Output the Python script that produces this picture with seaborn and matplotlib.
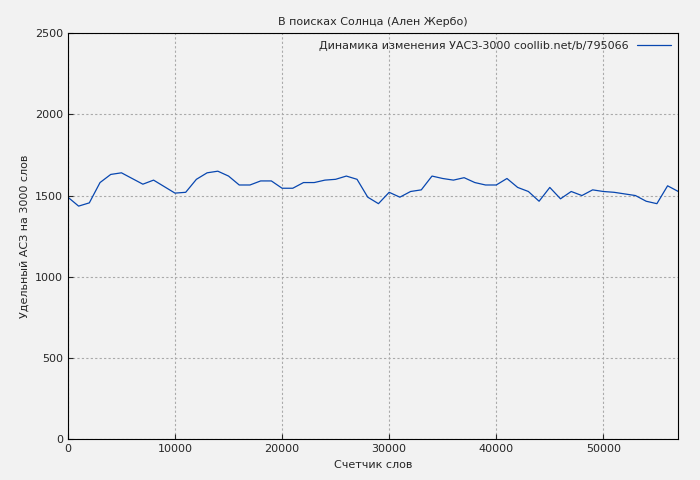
import matplotlib
matplotlib.use("Agg")
import matplotlib.pyplot as plt
import seaborn as sns

# Данные: счетчик слов и удельный АСЗ
words = list(range(0, 58000, 1000))
uasz = [1490, 1435, 1455, 1580, 1630, 1640, 1605, 1570, 1595, 1555,
        1515, 1520, 1600, 1640, 1650, 1620, 1565, 1565, 1590, 1590,
        1545, 1545, 1580, 1580, 1595, 1600, 1620, 1600, 1490, 1450,
        1520, 1490, 1525, 1535, 1620, 1605, 1595, 1610, 1580, 1565,
        1565, 1605, 1550, 1525, 1465, 1550, 1480, 1525, 1500, 1535,
        1525, 1520, 1510, 1500, 1465, 1450, 1560, 1525]

sns.set_style("ticks")
plt.rcParams["font.family"] = ["Verdana", "DejaVu Sans"]
fig, ax = plt.subplots(figsize=(7, 4.8), dpi=100)
fig.patch.set_facecolor("#f2f2f2")
ax.set_facecolor("#f2f2f2")

sns.lineplot(x=words, y=uasz, ax=ax, color="#0847b0", linewidth=0.9,
             label="Динамика изменения УАСЗ-3000 coollib.net/b/795066")

ax.set_xlim(0, 57000)
ax.set_ylim(0, 2500)
ax.set_xticks([0, 10000, 20000, 30000, 40000, 50000])
ax.set_yticks([0, 500, 1000, 1500, 2000, 2500])
ax.grid(True, color="#aaaaaa", linestyle=(0, (2, 2)), linewidth=0.8)
ax.tick_params(labelsize=8, direction="in")
for s in ax.spines.values():
    s.set_color("black")

ax.set_title("В поисках Солнца (Ален Жербо)", fontsize=8)
ax.set_xlabel("Счетчик слов", fontsize=8)
ax.set_ylabel("Удельный АСЗ на 3000 слов", fontsize=8)

leg = ax.legend(loc="upper right", fontsize=8, frameon=False,
                markerfirst=False, handlelength=3, borderaxespad=0.3)

plt.subplots_adjust(left=0.097, right=0.969, top=0.931, bottom=0.085)
fig.savefig("out.png", dpi=100, facecolor=fig.get_facecolor())
